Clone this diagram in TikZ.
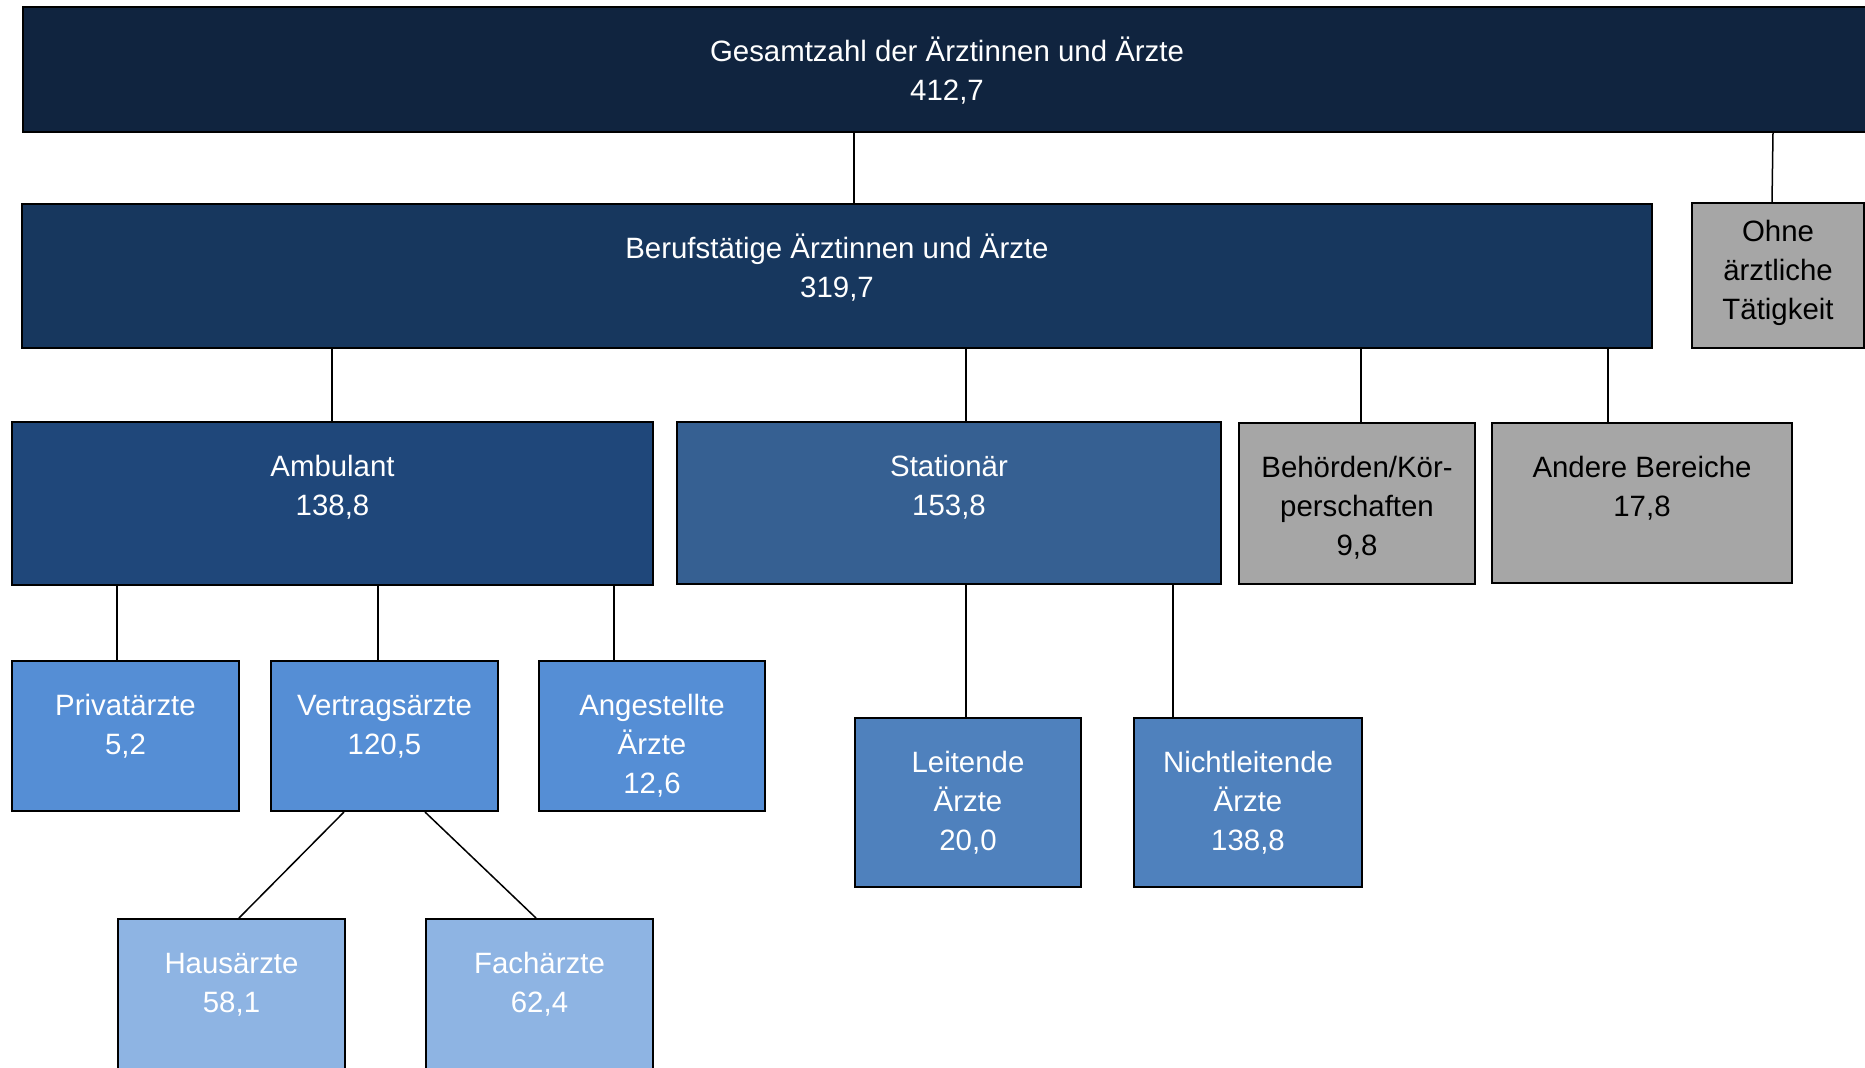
\documentclass[tikz,border=0pt]{standalone}
\usepackage{fontspec}
\setmainfont{Liberation Sans}

\definecolor{blauA}{HTML}{10243F}
\definecolor{blauB}{HTML}{17375E}
\definecolor{blauC}{HTML}{1F477A}
\definecolor{blauD}{HTML}{366092}
\definecolor{blauE}{HTML}{558ED5}
\definecolor{blauF}{HTML}{4F81BD}
\definecolor{blauG}{HTML}{8EB4E3}
\definecolor{grauK}{HTML}{A6A6A6}

\begin{document}
\begin{tikzpicture}[x=0.5pt, y=-0.5pt,
	font=\fontsize{14.7pt}{19.5pt}\selectfont,
	kasten/.style={rectangle, draw=black, line width=1pt, anchor=north west,
		inner sep=0pt, align=center, text=white},
	grau/.style={kasten, fill=grauK, text=black},
	zwei/.style={text height=46.5pt},
	drei/.style={text height=66pt},
	verb/.style={black, line width=0.75pt},
	]
	
	\useasboundingbox (0,0) rectangle (1865,1067);
	
	%% ── Ebene 1: Gesamtzahl ──────────────────────────────────────────────────
	\node[kasten, zwei, fill=blauA, minimum width=924pt, minimum height=62.5pt,
		text depth=16pt] (gesamt) at (22,6)
		{Gesamtzahl der Ärztinnen und Ärzte\\412,7};
	
	%% ── Ebene 2: Berufstätige / ohne Tätigkeit ───────────────────────────────
	\node[kasten, zwei, fill=blauB, minimum width=815pt, minimum height=72pt,
		text depth=25.5pt] (beruf) at (21,203)
		{Berufstätige Ärztinnen und Ärzte\\319,7};
	\node[grau, minimum width=86pt, minimum height=72.5pt,
		text height=58pt, text depth=14.5pt] (ohne) at (1691,202)
		{Ohne\\ärztliche\\Tätigkeit};
	
	%% ── Ebene 3: Bereiche ────────────────────────────────────────────────────
	\node[kasten, zwei, fill=blauC, minimum width=320.5pt, minimum height=81.5pt,
		text depth=35pt] (ambu) at (11,421) {Ambulant\\138,8};
	\node[kasten, zwei, fill=blauD, minimum width=272pt, minimum height=81pt,
		text depth=34.5pt] (station) at (676,421) {Stationär\\153,8};
	\node[grau, drei, minimum width=118pt, minimum height=80.5pt,
		text depth=14.5pt] (behoerde) at (1238,422) {Behörden/Kör-\\perschaften\\9,8};
	\node[grau, zwei, minimum width=150pt, minimum height=80pt,
		text depth=33.5pt] (andere) at (1491,422) {Andere Bereiche\\17,8};
	
	%% ── Ebene 4: ambulant ────────────────────────────────────────────────────
	\node[kasten, zwei, fill=blauE, minimum width=113.5pt, minimum height=75pt,
		text depth=28.5pt] (privat) at (11,660) {Privatärzte\\5,2};
	\node[kasten, zwei, fill=blauE, minimum width=113.5pt, minimum height=75pt,
		text depth=28.5pt] (vertrag) at (270,660) {Vertragsärzte\\120,5};
	\node[kasten, drei, fill=blauE, minimum width=113pt, minimum height=75pt,
		text depth=9pt] (angest) at (538,660) {Angestellte\\Ärzte\\12,6};
	
	%% ── Ebene 4: stationär ───────────────────────────────────────────────────
	\node[kasten, drei, fill=blauF, minimum width=113pt, minimum height=84.5pt,
		text depth=18.5pt] (leit) at (854,717) {Leitende\\Ärzte\\20,0};
	\node[kasten, drei, fill=blauF, minimum width=114pt, minimum height=84.5pt,
		text depth=18.5pt] (nichtl) at (1133,717) {Nichtleitende\\Ärzte\\138,8};
	
	%% ── Ebene 5: Vertragsärzte ───────────────────────────────────────────────
	\node[kasten, zwei, fill=blauG, minimum width=113.5pt, minimum height=80pt,
		text depth=33.5pt] (haus) at (117,918) {Hausärzte\\58,1};
	\node[kasten, zwei, fill=blauG, minimum width=113.5pt, minimum height=80pt,
		text depth=33.5pt] (fach) at (425,918) {Fachärzte\\62,4};
	
	%% ── Verbindungen ─────────────────────────────────────────────────────────
	\draw[verb]([xshift=416.5pt]beruf.north west)--([xshift=416.5pt]beruf.north west |- gesamt.south);
	\draw[verb]([xshift=40.5pt]ohne.north west)--([xshift=41pt]ohne.north west |- gesamt.south);
	
	\draw[verb]([xshift=160.5pt]ambu.north west)--([xshift=160.5pt]ambu.north west |- beruf.south);
	\draw[verb]([xshift=145pt]station.north west)--([xshift=145pt]station.north west |- beruf.south);
	\draw[verb]([xshift=61.5pt]behoerde.north west)--([xshift=61.5pt]behoerde.north west |- beruf.south);
	\draw[verb]([xshift=58.5pt]andere.north west)--([xshift=58.5pt]andere.north west |- beruf.south);
	
	\draw[verb]([xshift=53pt]privat.north west)--([xshift=53pt]privat.north west |- ambu.south);
	\draw[verb]([xshift=54pt]vertrag.north west)--([xshift=54pt]vertrag.north west |- ambu.south);
	\draw[verb]([xshift=38pt]angest.north west)--([xshift=38pt]angest.north west |- ambu.south);
	
	\draw[verb]([xshift=56pt]leit.north west)--([xshift=56pt]leit.north west |- station.south);
	\draw[verb]([xshift=20pt]nichtl.north west)--([xshift=20pt]nichtl.north west |- station.south);
	
	\draw[verb]([xshift=37pt]vertrag.south west)--([xshift=61pt]haus.north west);
	\draw[verb]([xshift=77.5pt]vertrag.south west)--([xshift=55.5pt]fach.north west);
	
\end{tikzpicture}
\end{document}
